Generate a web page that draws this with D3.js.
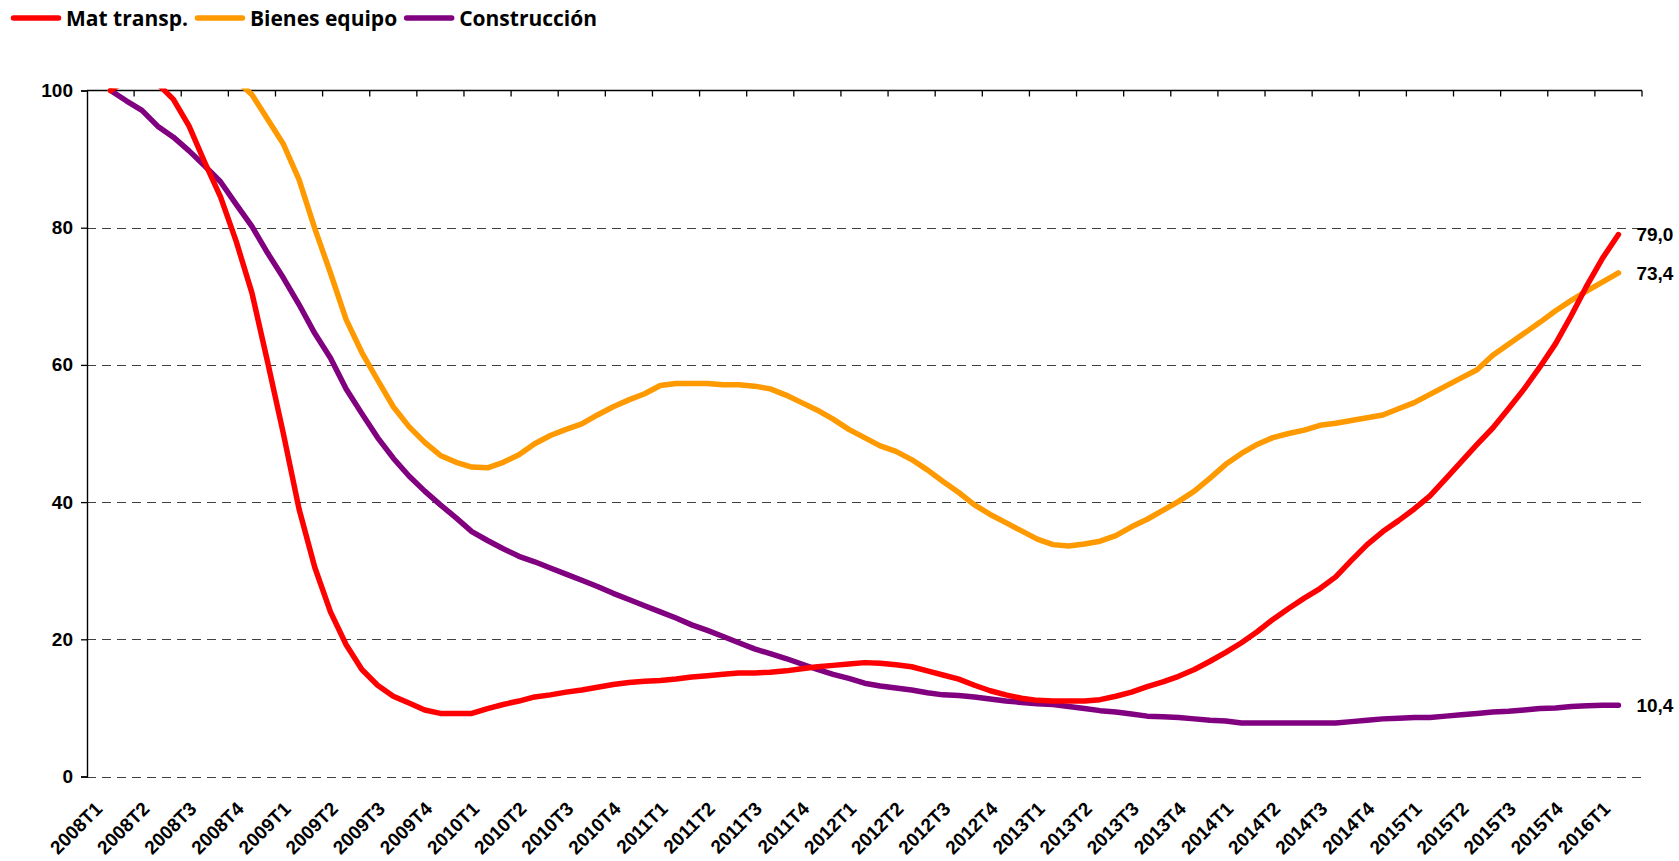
<!DOCTYPE html>
<html>
<head>
<meta charset="utf-8">
<script src="https://cdn.jsdelivr.net/npm/d3@7"></script>
<style>
  html, body { margin: 0; padding: 0; background: #fff; }
  svg { display: block; }
</style>
</head>
<body>
<svg id="chart" width="1679" height="861"></svg>
<script>
// ---------- DATA ----------
const quarters = ["2008T1","2008T2","2008T3","2008T4","2009T1","2009T2","2009T3","2009T4",
  "2010T1","2010T2","2010T3","2010T4","2011T1","2011T2","2011T3","2011T4",
  "2012T1","2012T2","2012T3","2012T4","2013T1","2013T2","2013T3","2013T4",
  "2014T1","2014T2","2014T3","2014T4","2015T1","2015T2","2015T3","2015T4","2016T1"];

// monthly values (3 per quarter), 2008T1 ... 2016T1
const matTransp = [100,101.5,102,101,98.7,94.8,89.5,84.5,78.0,70.5,60.4,50.0,
  39.0,30.5,24.0,19.2,15.6,13.3,11.7,10.7,9.7,9.2,9.2,9.2,
  9.9,10.5,11.0,11.6,11.9,12.3,12.6,13.0,13.4,13.7,13.9,14.0,
  14.2,14.5,14.7,14.9,15.1,15.1,15.2,15.4,15.7,16.0,16.2,16.4,
  16.6,16.5,16.3,16.0,15.4,14.8,14.2,13.3,12.5,11.9,11.4,11.1,
  11.0,11.0,11.0,11.2,11.7,12.3,13.1,13.8,14.6,15.6,16.8,18.1,
  19.5,21.1,22.9,24.5,26.0,27.4,29.1,31.5,33.8,35.7,37.3,39.0,
  40.9,43.4,45.9,48.4,50.8,53.6,56.5,59.7,63.1,67.2,71.6,75.6,
  79.0];

const bienesEquipo = [100,102.5,104.5,106,107,107,106,104,101.5,99.4,95.8,92.2,
  87.0,79.9,73.4,66.6,61.8,57.8,53.9,51.0,48.7,46.8,45.8,45.1,
  45.0,45.8,46.9,48.5,49.7,50.6,51.4,52.7,53.9,54.9,55.8,57.0,
  57.3,57.3,57.3,57.1,57.1,56.9,56.5,55.6,54.5,53.4,52.1,50.6,
  49.4,48.2,47.4,46.2,44.7,43.0,41.4,39.6,38.2,37.0,35.8,34.6,
  33.8,33.6,33.9,34.3,35.1,36.4,37.5,38.8,40.1,41.6,43.5,45.5,
  47.1,48.4,49.4,50.0,50.5,51.2,51.5,51.9,52.3,52.7,53.6,54.5,
  55.7,56.9,58.1,59.3,61.4,63.0,64.6,66.2,67.9,69.4,70.8,72.1,
  73.4];

const construccion = [100,98.5,97.1,94.8,93.2,91.2,89.0,86.7,83.4,80.2,76.3,72.7,
  68.8,64.6,61.0,56.5,52.9,49.4,46.4,43.8,41.6,39.6,37.7,35.7,
  34.4,33.2,32.1,31.3,30.4,29.5,28.6,27.7,26.7,25.8,24.9,24.0,
  23.1,22.1,21.3,20.4,19.5,18.6,17.9,17.2,16.4,15.6,14.9,14.3,
  13.6,13.2,12.9,12.6,12.2,11.9,11.8,11.6,11.3,11.0,10.8,10.6,
  10.5,10.2,9.9,9.6,9.4,9.1,8.8,8.7,8.6,8.4,8.2,8.1,
  7.8,7.8,7.8,7.8,7.8,7.8,7.8,8.0,8.2,8.4,8.5,8.6,
  8.6,8.8,9.0,9.2,9.4,9.5,9.7,9.9,10.0,10.2,10.3,10.4,
  10.4];

const seriesNames = ["Mat transp.", "Bienes equipo", "Construcción"];
const endLabels = ["79,0", "73,4", "10,4"];
const yTicks = [0, 20, 40, 60, 80, 100];

// ---------- LAYOUT / STYLE ----------
const colors = ["#FF0000", "#FF9900", "#800080"];
const plot = { left: 87, right: 1642, top: 90.5, bottom: 776.5 };
const tickFont = "'Liberation Sans', Arial, sans-serif";
const legendFont = "'Open Sans', 'Noto Sans', sans-serif";

const svg = d3.select("#chart");

const xBand = d3.scaleBand().domain(quarters).range([plot.left, plot.right]).padding(0);
const bw = xBand.bandwidth();
const xMonth = i => xBand(quarters[Math.floor(i / 3)]) + bw * (0.5 + (i % 3) / 3);
const y = d3.scaleLinear().domain([0, 100]).range([plot.bottom, plot.top]);

// gridlines (dashed) for values below 100
svg.append("g").selectAll("line").data(yTicks.filter(v => v < 100)).join("line")
  .attr("x1", plot.left).attr("x2", plot.right)
  .attr("y1", d => Math.round(y(d)) + 0.5).attr("y2", d => Math.round(y(d)) + 0.5)
  .attr("stroke", "#404040").attr("stroke-width", 1)
  .attr("stroke-dasharray", "9,6");

// y axis
const yAxis = d3.axisLeft(y).tickValues(yTicks).tickSize(6).tickPadding(8)
  .tickFormat(d3.format("d"));
const gy = svg.append("g").attr("transform", `translate(${plot.left},0)`).call(yAxis);
gy.select(".domain").attr("stroke", "#000").attr("stroke-width", 1.4);
gy.selectAll(".tick line").attr("stroke", "#000").attr("stroke-width", 1.3);
gy.selectAll(".tick text").attr("font-family", tickFont).attr("font-size", 19)
  .attr("font-weight", "bold").attr("fill", "#000");

// top axis line with category boundary ticks
svg.append("line").attr("x1", plot.left).attr("x2", plot.right)
  .attr("y1", y(100)).attr("y2", y(100)).attr("stroke", "#000").attr("stroke-width", 1.4);
const boundaries = quarters.map(q => xBand(q) + bw);
svg.append("g").selectAll("line").data(boundaries).join("line")
  .attr("x1", d => d).attr("x2", d => d)
  .attr("y1", y(100)).attr("y2", y(100) + 6)
  .attr("stroke", "#000").attr("stroke-width", 1.3);

// x labels (rotated)
svg.append("g").selectAll("text").data(quarters).join("text")
  .attr("transform", d => `translate(${xBand(d) + bw / 2 - 7},${plot.bottom + 33.5}) rotate(-45)`)
  .attr("text-anchor", "end")
  .attr("font-family", tickFont).attr("font-size", 19).attr("font-weight", "bold")
  .attr("fill", "#000")
  .text(d => d);

// clip
svg.append("clipPath").attr("id", "plotclip").append("rect")
  .attr("x", plot.left - 10).attr("y", plot.top - 2)
  .attr("width", plot.right - plot.left + 20).attr("height", plot.bottom - plot.top + 12);

const allSeries = [matTransp, bienesEquipo, construccion];
const line = d3.line().x((d, i) => xMonth(i)).y(d => y(d));

const gl = svg.append("g").attr("clip-path", "url(#plotclip)");
[2, 1, 0].forEach(si => {
  gl.append("path").datum(allSeries[si])
    .attr("d", line)
    .attr("fill", "none")
    .attr("stroke", colors[si])
    .attr("stroke-width", 5.5)
    .attr("stroke-linejoin", "round")
    .attr("stroke-linecap", "round");
});

// end labels
allSeries.forEach((s, si) => {
  const last = s.length - 1;
  svg.append("text")
    .attr("x", xMonth(last) + 18)
    .attr("y", y(s[last]))
    .attr("dy", "0.35em")
    .attr("font-family", tickFont).attr("font-size", 19).attr("font-weight", "bold")
    .attr("fill", "#000")
    .text(endLabels[si]);
});

// legend
const lg = svg.append("g");
let lx = 11;
seriesNames.forEach((name, i) => {
  lg.append("line")
    .attr("x1", lx + 2.5).attr("x2", lx + 50 - 2.5)
    .attr("y1", 18).attr("y2", 18)
    .attr("stroke", colors[i]).attr("stroke-width", 5.5)
    .attr("stroke-linecap", "round");
  const t = lg.append("text")
    .attr("x", lx + 55).attr("y", 25.5)
    .attr("font-family", legendFont).attr("font-size", 21).attr("font-weight", 700)
    .attr("fill", "#000")
    .text(name);
  const w = t.node().getComputedTextLength();
  lx = lx + 55 + w + 7;
});
</script>
</body>
</html>
